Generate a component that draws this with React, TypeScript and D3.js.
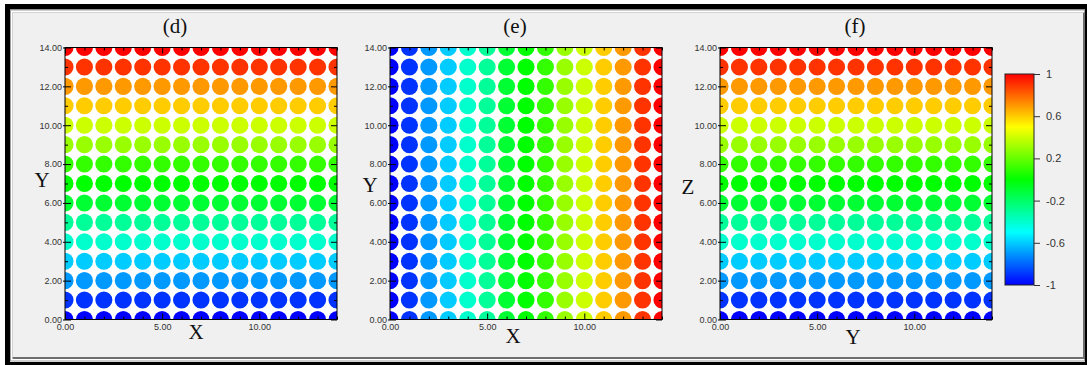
import React, { useEffect, useRef } from 'react';
import * as d3 from 'd3';

// grid node positions (same for x and y)
const gridPositions = [0, 1, 2, 3, 4, 5, 6, 7, 8, 9, 10, 11, 12, 13, 14];
// value of each row, bottom to top, for panels (d) and (f)
const rowValues = [-1, -0.9, -0.7, -0.6, -0.4, -0.3, -0.1, 0, 0.1, 0.3, 0.4, 0.6, 0.7, 0.9, 1];
// value of each column, left to right, for panel (e)
const columnValues = [-1, -0.9, -0.7, -0.6, -0.4, -0.3, -0.1, 0, 0.1, 0.3, 0.4, 0.6, 0.7, 0.9, 1];

const yMajorTicks = [0, 2, 4, 6, 8, 10, 12, 14];
const yMinorTicks = [1, 3, 5, 7, 9, 11, 13];
const xMajorTicks = [0, 5, 10];
const xMinorTicks = [1, 2, 3, 4, 6, 7, 8, 9, 11, 12, 13, 14];
const colorbarTicks = [-1, -0.6, -0.2, 0.2, 0.6, 1];

const panels = [
  { id: 'd', title: '(d)', xLabel: 'X', yLabel: 'Y', colorBy: 'row', left: 65, titleX: 175, xLabelX: 196, xLabelY: 339, yLabelX: 42, yLabelY: 187 },
  { id: 'e', title: '(e)', xLabel: 'X', yLabel: 'Y', colorBy: 'column', left: 390, titleX: 515, xLabelX: 513, xLabelY: 343, yLabelX: 370, yLabelY: 192 },
  { id: 'f', title: '(f)', xLabel: 'Y', yLabel: 'Z', colorBy: 'row', left: 720, titleX: 855, xLabelX: 853, xLabelY: 344, yLabelX: 688, yLabelY: 194 },
];

const W = 1087, H = 365;
const plotTop = 47.5, plotBottom = 319.5, plotWidth = 272;
const sans = '"Liberation Sans", Arial, sans-serif';
const serif = '"Liberation Serif", "Times New Roman", serif';

// rainbow: -1 blue -> 1 red
const colorOf = (v: number) => d3.hsl((240 * (1 - v)) / 2, 1, 0.5).formatHex();

const App = () => {
  const ref = useRef<SVGSVGElement>(null);

  useEffect(() => {
    if (!ref.current) return;
    const svg = d3.select(ref.current);
    svg.selectAll('*').remove();

    // window frame
    svg.append('rect').attr('width', W).attr('height', H).attr('fill', '#fff');
    svg.append('rect').attr('x', 5).attr('y', 4).attr('width', W - 5).attr('height', H - 4).attr('fill', '#000');
    svg.append('rect').attr('x', 10).attr('y', 9.5).attr('width', 1075).attr('height', 352.5).attr('fill', '#fff');
    svg.append('rect').attr('x', 10.5).attr('y', 10).attr('width', 1074).attr('height', 351).attr('fill', 'none').attr('stroke', '#a0a0a0');
    svg.append('rect').attr('x', 12.5).attr('y', 12.5).attr('width', 1072.5).attr('height', 346.5).attr('fill', '#6e6e6e');
    svg.append('rect').attr('x', 12.5).attr('y', 12.5).attr('width', 1070.5).attr('height', 344.5).attr('fill', '#f0f0f0');

    const defs = svg.append('defs');

    panels.forEach(p => {
      const x = d3.scaleLinear().domain([0, 14]).range([p.left, p.left + plotWidth]);
      const y = d3.scaleLinear().domain([0, 14]).range([plotBottom, plotTop]);
      const r = (x(1) - x(0)) * 0.44;

      defs.append('clipPath').attr('id', `clip-${p.id}`)
        .append('rect')
        .attr('x', x(0)).attr('y', y(14))
        .attr('width', x(14) - x(0)).attr('height', y(0) - y(14));

      const g = svg.append('g');
      g.append('rect')
        .attr('x', x(0)).attr('y', y(14))
        .attr('width', x(14) - x(0)).attr('height', y(0) - y(14))
        .attr('fill', '#fff');

      const nodes: { xi: number; yi: number; v: number }[] = [];
      gridPositions.forEach((gx, i) => {
        gridPositions.forEach((gy, j) => {
          nodes.push({ xi: gx, yi: gy, v: p.colorBy === 'row' ? rowValues[j] : columnValues[i] });
        });
      });

      g.append('g').attr('clip-path', `url(#clip-${p.id})`)
        .selectAll('circle')
        .data(nodes)
        .enter().append('circle')
        .attr('cx', d => x(d.xi))
        .attr('cy', d => y(d.yi))
        .attr('r', r)
        .attr('fill', d => colorOf(d.v));

      const styleAxis = (sel: any) => {
        sel.select('.domain').remove();
        sel.selectAll('line').attr('stroke', '#000');
        sel.selectAll('text')
          .attr('font-family', sans)
          .attr('font-size', 9)
          .attr('fill', '#333');
      };

      // left axis with labels
      g.append('g').attr('transform', `translate(${x(0)},0)`)
        .call(d3.axisLeft(y).tickValues(yMajorTicks).tickSize(-6).tickPadding(3).tickFormat(d3.format('.2f')))
        .call(styleAxis);
      g.append('g').attr('transform', `translate(${x(0)},0)`)
        .call(d3.axisLeft(y).tickValues(yMajorTicks).tickSize(2).tickFormat(() => ''))
        .call(styleAxis);
      g.append('g').attr('transform', `translate(${x(0)},0)`)
        .call(d3.axisLeft(y).tickValues(yMinorTicks).tickSize(-3).tickFormat(() => ''))
        .call(styleAxis);
      // right mirror
      g.append('g').attr('transform', `translate(${x(14)},0)`)
        .call(d3.axisRight(y).tickValues(yMajorTicks).tickSize(-6).tickFormat(() => ''))
        .call(styleAxis);
      g.append('g').attr('transform', `translate(${x(14)},0)`)
        .call(d3.axisRight(y).tickValues(yMinorTicks).tickSize(-3).tickFormat(() => ''))
        .call(styleAxis);

      // bottom axis with labels
      g.append('g').attr('transform', `translate(0,${y(0)})`)
        .call(d3.axisBottom(x).tickValues(xMajorTicks).tickSize(-6).tickPadding(4).tickFormat(d3.format('.2f')))
        .call(styleAxis);
      g.append('g').attr('transform', `translate(0,${y(0)})`)
        .call(d3.axisBottom(x).tickValues(xMinorTicks).tickSize(-3).tickFormat(() => ''))
        .call(styleAxis);
      // top mirror
      g.append('g').attr('transform', `translate(0,${y(14)})`)
        .call(d3.axisTop(x).tickValues(xMajorTicks).tickSize(-6).tickFormat(() => ''))
        .call(styleAxis);
      g.append('g').attr('transform', `translate(0,${y(14)})`)
        .call(d3.axisTop(x).tickValues(xMinorTicks).tickSize(-3).tickFormat(() => ''))
        .call(styleAxis);

      // frame
      g.append('rect')
        .attr('x', x(0)).attr('y', y(14))
        .attr('width', x(14) - x(0)).attr('height', y(0) - y(14))
        .attr('fill', 'none').attr('stroke', '#000').attr('stroke-width', 1);

      g.append('text').attr('x', p.titleX).attr('y', 33)
        .attr('text-anchor', 'middle').attr('font-family', serif).attr('font-size', 21).attr('fill', '#111')
        .text(p.title);
      g.append('text').attr('x', p.xLabelX).attr('y', p.xLabelY)
        .attr('text-anchor', 'middle').attr('font-family', serif).attr('font-size', 21).attr('fill', '#111')
        .text(p.xLabel);
      g.append('text').attr('x', p.yLabelX).attr('y', p.yLabelY)
        .attr('text-anchor', 'middle').attr('font-family', serif).attr('font-size', 21).attr('fill', '#111')
        .text(p.yLabel);
    });

    // colorbar
    const cb = d3.scaleLinear().domain([-1, 1]).range([285, 74]);
    const grad = defs.append('linearGradient').attr('id', 'cbar')
      .attr('x1', 0).attr('y1', 1).attr('x2', 0).attr('y2', 0);
    d3.range(0, 21).forEach(i => {
      const v = -1 + i * 0.1;
      grad.append('stop').attr('offset', `${i * 5}%`).attr('stop-color', colorOf(v));
    });
    svg.append('rect')
      .attr('x', 1005).attr('y', cb(1))
      .attr('width', 29).attr('height', cb(-1) - cb(1))
      .attr('fill', 'url(#cbar)').attr('stroke', '#222').attr('stroke-width', 1);
    const cbAxis = svg.append('g').attr('transform', 'translate(1034,0)')
      .call(d3.axisRight(cb).tickValues(colorbarTicks).tickSize(6).tickPadding(6).tickFormat(d => String(d)));
    cbAxis.select('.domain').remove();
    cbAxis.selectAll('line').attr('stroke', '#333');
    cbAxis.selectAll('text').attr('font-family', sans).attr('font-size', 11).attr('fill', '#333');
  }, []);

  return <svg ref={ref} width={W} height={H} style={{ position: 'absolute', left: 0, top: 0, display: 'block' }} />;
};

export default App;
